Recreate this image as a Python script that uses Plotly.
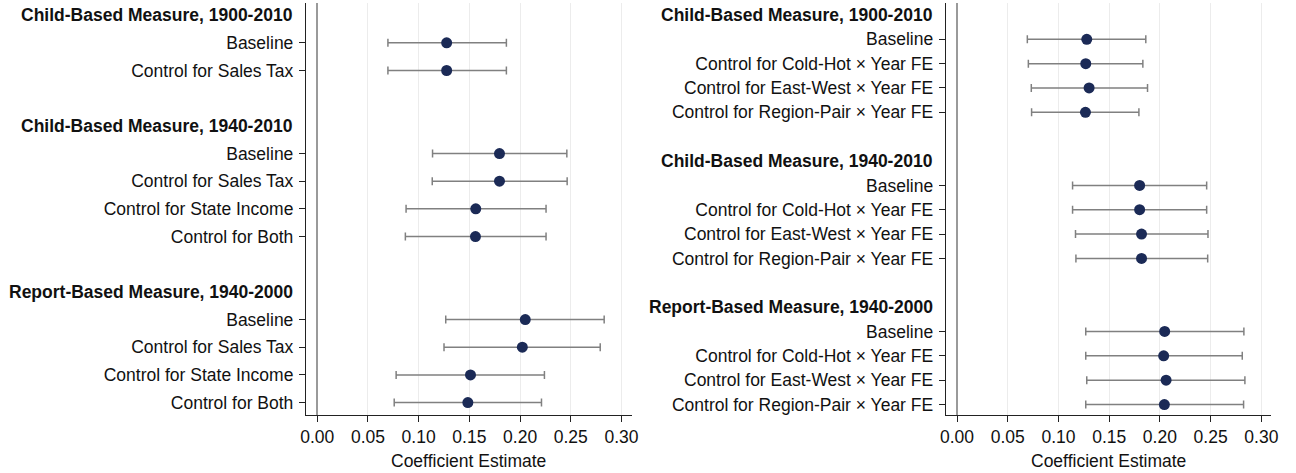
import plotly.graph_objects as go

# ---------------- data ----------------
# Left panel
left_labels = ["Baseline", "Control for Sales Tax",
               "Baseline", "Control for Sales Tax", "Control for State Income", "Control for Both",
               "Baseline", "Control for Sales Tax", "Control for State Income", "Control for Both"]
left_rows = [1, 2, 5, 6, 7, 8, 11, 12, 13, 14]
left_est = [0.1276, 0.1276, 0.1797, 0.1797, 0.1563, 0.1560, 0.2051, 0.2022, 0.1511, 0.1485]
left_lo = [0.0697, 0.0697, 0.1137, 0.1134, 0.0876, 0.0869, 0.1267, 0.1250, 0.0778, 0.0759]
left_hi = [0.1865, 0.1865, 0.2461, 0.2464, 0.2256, 0.2256, 0.2829, 0.2790, 0.2240, 0.2211]
left_headers = ["Child-Based Measure, 1900-2010", "Child-Based Measure, 1940-2010",
                "Report-Based Measure, 1940-2000"]
left_header_rows = [0, 4, 10]

# Right panel
right_labels = ["Baseline", "Control for Cold-Hot × Year FE", "Control for East-West × Year FE",
                "Control for Region-Pair × Year FE",
                "Baseline", "Control for Cold-Hot × Year FE", "Control for East-West × Year FE",
                "Control for Region-Pair × Year FE",
                "Baseline", "Control for Cold-Hot × Year FE", "Control for East-West × Year FE",
                "Control for Region-Pair × Year FE"]
right_rows = [1, 2, 3, 4, 7, 8, 9, 10, 13, 14, 15, 16]
right_est = [0.1279, 0.1269, 0.1302, 0.1266, 0.1800, 0.1800, 0.1819, 0.1819, 0.2047, 0.2037, 0.2061, 0.2044]
right_lo = [0.0693, 0.0703, 0.0732, 0.0735, 0.1139, 0.1139, 0.1168, 0.1172, 0.1269, 0.1269, 0.1279, 0.1269]
right_hi = [0.1861, 0.1832, 0.1878, 0.1793, 0.2461, 0.2461, 0.2474, 0.2471, 0.2828, 0.2812, 0.2838, 0.2825]
right_headers = ["Child-Based Measure, 1900-2010", "Child-Based Measure, 1940-2010",
                 "Report-Based Measure, 1940-2000"]
right_header_rows = [0, 6, 12]

x_ticks = [0.00, 0.05, 0.10, 0.15, 0.20, 0.25, 0.30]
x_ticklabels = ["0.00", "0.05", "0.10", "0.15", "0.20", "0.25", "0.30"]
x_title = "Coefficient Estimate"

# ---------------- style ----------------
W, H = 1296, 473
FONT = "Liberation Sans, Arial, sans-serif"
FS = 17.5
MARK = "#1b2a56"
ERR = "#808080"

fig = go.Figure()


def add_panel(est, lo, hi, rows, xa, ya):
    fig.add_trace(go.Scatter(
        x=est, y=rows, mode="markers", xaxis=xa, yaxis=ya,
        marker=dict(size=11, color=MARK),
        error_x=dict(type="data", symmetric=False,
                     array=[h - e for h, e in zip(hi, est)],
                     arrayminus=[e - l for e, l in zip(est, lo)],
                     color=ERR, thickness=1.5, width=4),
        showlegend=False, hoverinfo="skip"))


add_panel(left_est, left_lo, left_hi, left_rows, "x", "y")
add_panel(right_est, right_lo, right_hi, right_rows, "x2", "y2")

xcommon = dict(range=[-0.0111, 0.310], tickvals=x_ticks, ticktext=x_ticklabels,
               showgrid=True, gridcolor="#ececec", gridwidth=1.2,
               zeroline=True, zerolinecolor="#9a9a9a", zerolinewidth=1.8,
               showline=True, linecolor="#222222", linewidth=1.2,
               ticks="outside", ticklen=6, tickcolor="#222222", tickwidth=1.2,
               tickfont=dict(family=FONT, size=FS, color="#111111"))
ycommon = dict(showgrid=False, zeroline=False,
               showline=True, linecolor="#222222", linewidth=1.2,
               ticks="outside", ticklen=6, tickcolor="#222222", tickwidth=1.2,
               tickfont=dict(family=FONT, size=FS, color="#111111"),
               ticklabelstandoff=2)

L0, L1 = 303 / W, 632 / W
R0, R1 = 949.3 / W, 1278.3 / W

fig.update_layout(
    width=W, height=H,
    margin=dict(l=0, r=0, t=3, b=58),
    paper_bgcolor="white", plot_bgcolor="white",
    font=dict(family=FONT, size=FS, color="#111111"),
    xaxis=dict(domain=[L0, L1], anchor="y", **xcommon),
    yaxis=dict(domain=[0, 1], anchor="x", range=[14.45, -0.44],
               tickvals=left_rows, ticktext=left_labels, **ycommon),
    xaxis2=dict(domain=[R0, R1], anchor="y2", **xcommon),
    yaxis2=dict(domain=[0, 1], anchor="x2", range=[16.43, -0.49],
                tickvals=right_rows, ticktext=right_labels, **ycommon),
)

ann = []
for t, r in zip(left_headers, left_header_rows):
    ann.append(dict(text="<b>" + t + "</b>", x=292 / W, xref="paper", xanchor="right",
                    y=r, yref="y", yanchor="middle", showarrow=False,
                    font=dict(family=FONT, size=FS, color="#111111")))
for t, r in zip(right_headers, right_header_rows):
    ann.append(dict(text="<b>" + t + "</b>", x=938.5 / W, xref="paper", xanchor="right",
                    y=r, yref="y2", yanchor="middle", showarrow=False,
                    font=dict(family=FONT, size=FS, color="#111111")))
for xr in ["x domain", "x2 domain"]:
    ann.append(dict(text=x_title, x=0.5, xref=xr, xanchor="center",
                    y=(415 - 460.7) / 412, yref="paper", yanchor="middle", showarrow=False,
                    font=dict(family=FONT, size=FS, color="#111111")))
fig.update_layout(annotations=ann)

fig.write_html("out.html",
               config={"displayModeBar": False},
               post_script="document.body.style.margin='0';document.body.style.overflow='hidden';")
